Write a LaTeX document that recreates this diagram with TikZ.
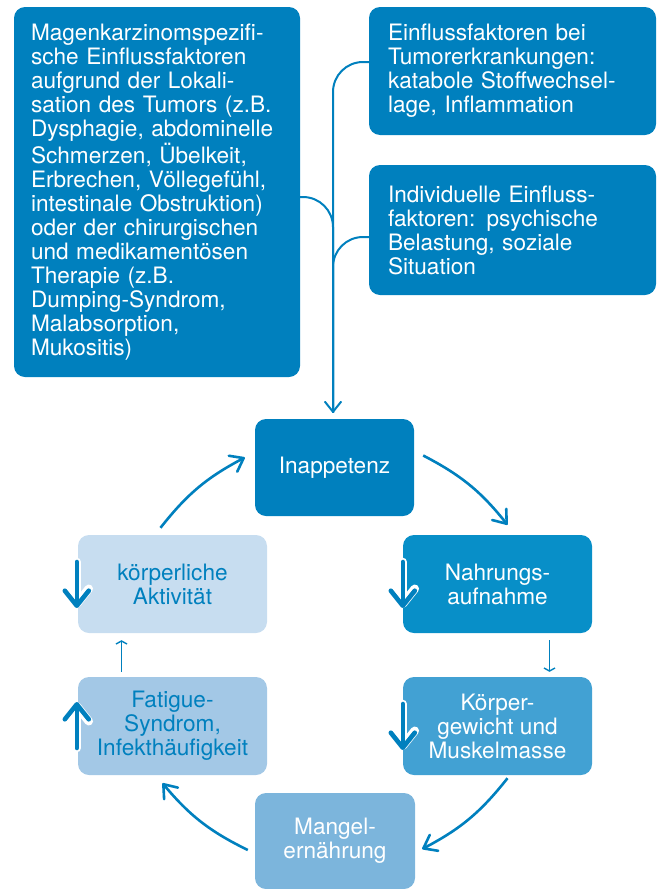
\documentclass[tikz,border=0pt]{standalone}
\usepackage{fontspec}
\setmainfont{TeX Gyre Heros}
\definecolor{blueA}{RGB}{0,128,190}
\definecolor{blueB}{RGB}{8,143,200}
\definecolor{blueC}{RGB}{66,161,211}
\definecolor{blueD}{RGB}{124,181,220}
\definecolor{blueE}{RGB}{163,200,230}
\definecolor{blueF}{RGB}{199,221,240}
\usetikzlibrary{positioning,arrows.meta,calc}

\begin{document}
\begin{tikzpicture}[x=1pt, y=-1pt,
  font=\fontsize{22.6}{24}\selectfont,
  box/.style={rounded corners=11pt, inner sep=0pt, align=center, text=white},
  infobox/.style={box, fill=blueA, align=left, text width=#1},
  cbox/.style={box, minimum width=189pt, minimum height=98pt},
  feed/.style={draw=blueA, line width=2pt, rounded corners=30pt},
  cyc/.style={draw=blueA, line width=2.6pt, -{Straight Barb[length=12pt,width=18pt,line width=2.6pt,round]}},
  sarr/.style={draw=blueA, line width=1.4pt, -{Straight Barb[length=3pt,width=11pt,line width=1.4pt]}},
  trend/.style={draw=blueA, line width=4.6pt, line cap=round, -{Straight Barb[length=15pt,width=24pt,line width=4.6pt,round]},
    preaction={draw=white, line width=8.5pt, line cap=round, -{Straight Barb[length=15pt,width=24pt,line width=8.5pt,round]}}}]
\useasboundingbox (0,0) rectangle (662,889);
\node[infobox=252pt, minimum width=286pt, minimum height=370pt] (mag) at (157,192)
  {Magenkarzinomspezifi-\\sche Einflussfaktoren\\aufgrund der Lokali-\\sation des Tumors (z.B.\\Dysphagie, abdominelle\\Schmerzen, Übelkeit,\\Erbrechen, Völlegefühl,\\intestinale Obstruktion)\\oder der chirurgischen\\und medikamentösen\\Therapie (z.B.\\Dumping-Syndrom,\\Malabsorption,\\Mukositis)};
\node[infobox=249pt, minimum width=287pt, minimum height=128pt] (ein) at (512.5,71)
  {Einflussfaktoren bei\\Tumorerkrankungen:\\katabole Stoffwechsel-\\lage, Inflammation};
\node[infobox=249pt, minimum width=287pt, minimum height=130pt] (ind) at (512.5,230)
  {Individuelle Einfluss-\\faktoren: psychische\\Belastung, soziale\\Situation};
\node[box, fill=blueA, minimum width=159pt, minimum height=97pt] (inap) at (334.5,467.5) {Inappetenz};
\node[cbox, fill=blueB] (nahr) at (497.5,584) {Nahrungs-\\aufnahme};
\node[cbox, fill=blueC] (koerp) at (497.5,726) {Körper-\\gewicht und\\Muskelmasse};
\node[box, fill=blueD, minimum width=160pt, minimum height=96pt] (mangel) at (335,841) {Mangel-\\ernährung};
\node[cbox, fill=blueE, text=blueA] (fatig) at (172.5,726) {Fatigue-\\Syndrom,\\Infekthäufigkeit};
\node[cbox, fill=blueF, text=blueA] (akt) at (172.5,584) {körperliche\\Aktivität};
\coordinate (join) at ($(inap.north)+(-1.5,-6)$);
\draw[feed, -{Straight Barb[length=10pt,width=16pt,line width=2pt,round]}] ($(ein.west)+(0,-9)$) -| (join);
\draw[feed] ($(mag.east)+(0,5)$) -| (join);
\draw[feed] ($(ind.west)+(0,7)$) -| (join);
\draw[cyc] ($(akt.north)+(-12,-7)$) to[bend left=12] ($(inap.west)+(-10,-10)$);
\draw[cyc] ($(inap.east)+(9,-12)$) to[bend left=12] ($(nahr.north)+(10,-10)$);
\draw[cyc] ($(koerp.south)+(10,3)$) to[bend left=12] ($(mangel.east)+(7,8)$);
\draw[cyc] ($(mangel.west)+(-7,9)$) to[bend left=12] ($(fatig.south)+(-10,8)$);
\draw[sarr] ($(nahr.south)+(52,7)$) -- ($(koerp.north)+(52,-5)$);
\draw[sarr] ($(fatig.north)+(-51,-5)$) -- ($(akt.south)+(-51,7)$);
\draw[trend] ($(akt.west)+(-1,-22)$) -- ($(akt.west)+(-1,24)$);
\draw[trend] ($(nahr.west)+(0,-22)$) -- ($(nahr.west)+(0,24)$);
\draw[trend] ($(koerp.west)+(0,-22)$) -- ($(koerp.west)+(0,24)$);
\draw[trend] ($(fatig.west)+(-1,22)$) -- ($(fatig.west)+(-1,-24)$);
\end{tikzpicture}
\end{document}
